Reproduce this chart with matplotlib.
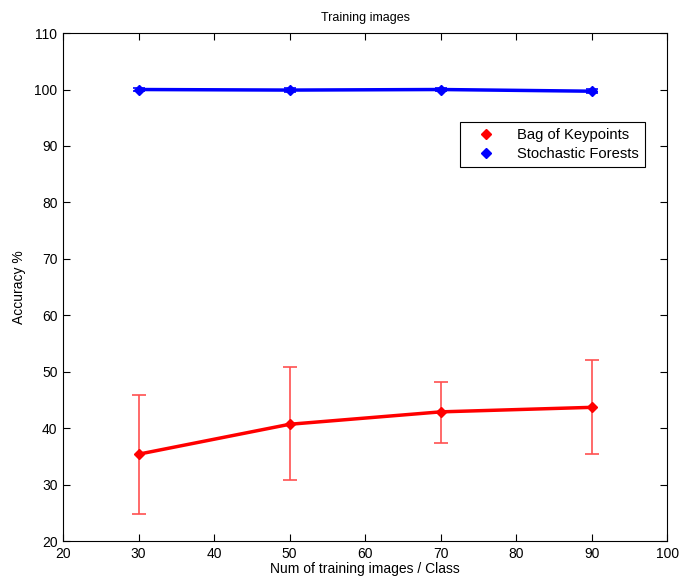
import matplotlib
matplotlib.use("Agg")
import matplotlib.pyplot as plt
from matplotlib.lines import Line2D

# data
n_images = [30, 50, 70, 90]
bok_mean = [35.4, 40.7, 42.9, 43.7]
bok_lo = [24.8, 30.8, 37.4, 35.4]
bok_hi = [45.9, 50.8, 48.2, 52.1]
sf_mean = [100.0, 99.9, 100.0, 99.7]
sf_err = [0.3, 0.3, 0.2, 0.4]

plt.rcParams['font.family'] = ['Liberation Sans', 'DejaVu Sans']

fig = plt.figure(figsize=(6.85, 5.8), dpi=100)
ax = fig.add_axes([0.092, 0.067, 0.882, 0.876])

yerr = [[m - l for m, l in zip(bok_mean, bok_lo)],
        [h - m for m, h in zip(bok_mean, bok_hi)]]
ax.errorbar(n_images, bok_mean, yerr=yerr, color='red', lw=2.5,
            marker='D', ms=5, ecolor='#ff5050', elinewidth=1.2,
            capsize=5, capthick=1.2)
ax.errorbar(n_images, sf_mean, yerr=sf_err, color='blue', lw=2.5,
            marker='D', ms=5, ecolor='blue', elinewidth=1.2,
            capsize=4, capthick=1.2)

ax.set_xlim(20, 100)
ax.set_ylim(20, 110)
ax.set_xticks(range(20, 101, 10))
ax.set_yticks(range(20, 111, 10))
ax.tick_params(direction='in', top=True, right=True, labelsize=10,
               length=5, pad=4)
for s in ax.spines.values():
    s.set_linewidth(0.8)

ax.set_title("Training images", fontsize=9, pad=9)
ax.set_xlabel("Num of training images / Class", fontsize=10, labelpad=1)
ax.set_ylabel("Accuracy %", fontsize=10, labelpad=6)

handles = [Line2D([], [], color='red', marker='D', ls='none', ms=5),
           Line2D([], [], color='blue', marker='D', ls='none', ms=5)]
leg = ax.legend(handles, ["Bag of Keypoints", "Stochastic Forests"],
                loc='upper left', bbox_to_anchor=(0.657, 0.825),
                borderaxespad=0, fontsize=10.6, fancybox=False,
                edgecolor='black', framealpha=1, borderpad=0.4,
                handlelength=2.8, handletextpad=0.7, labelspacing=0.35)
leg.get_frame().set_linewidth(0.8)

fig.savefig("out.png", dpi=100)
